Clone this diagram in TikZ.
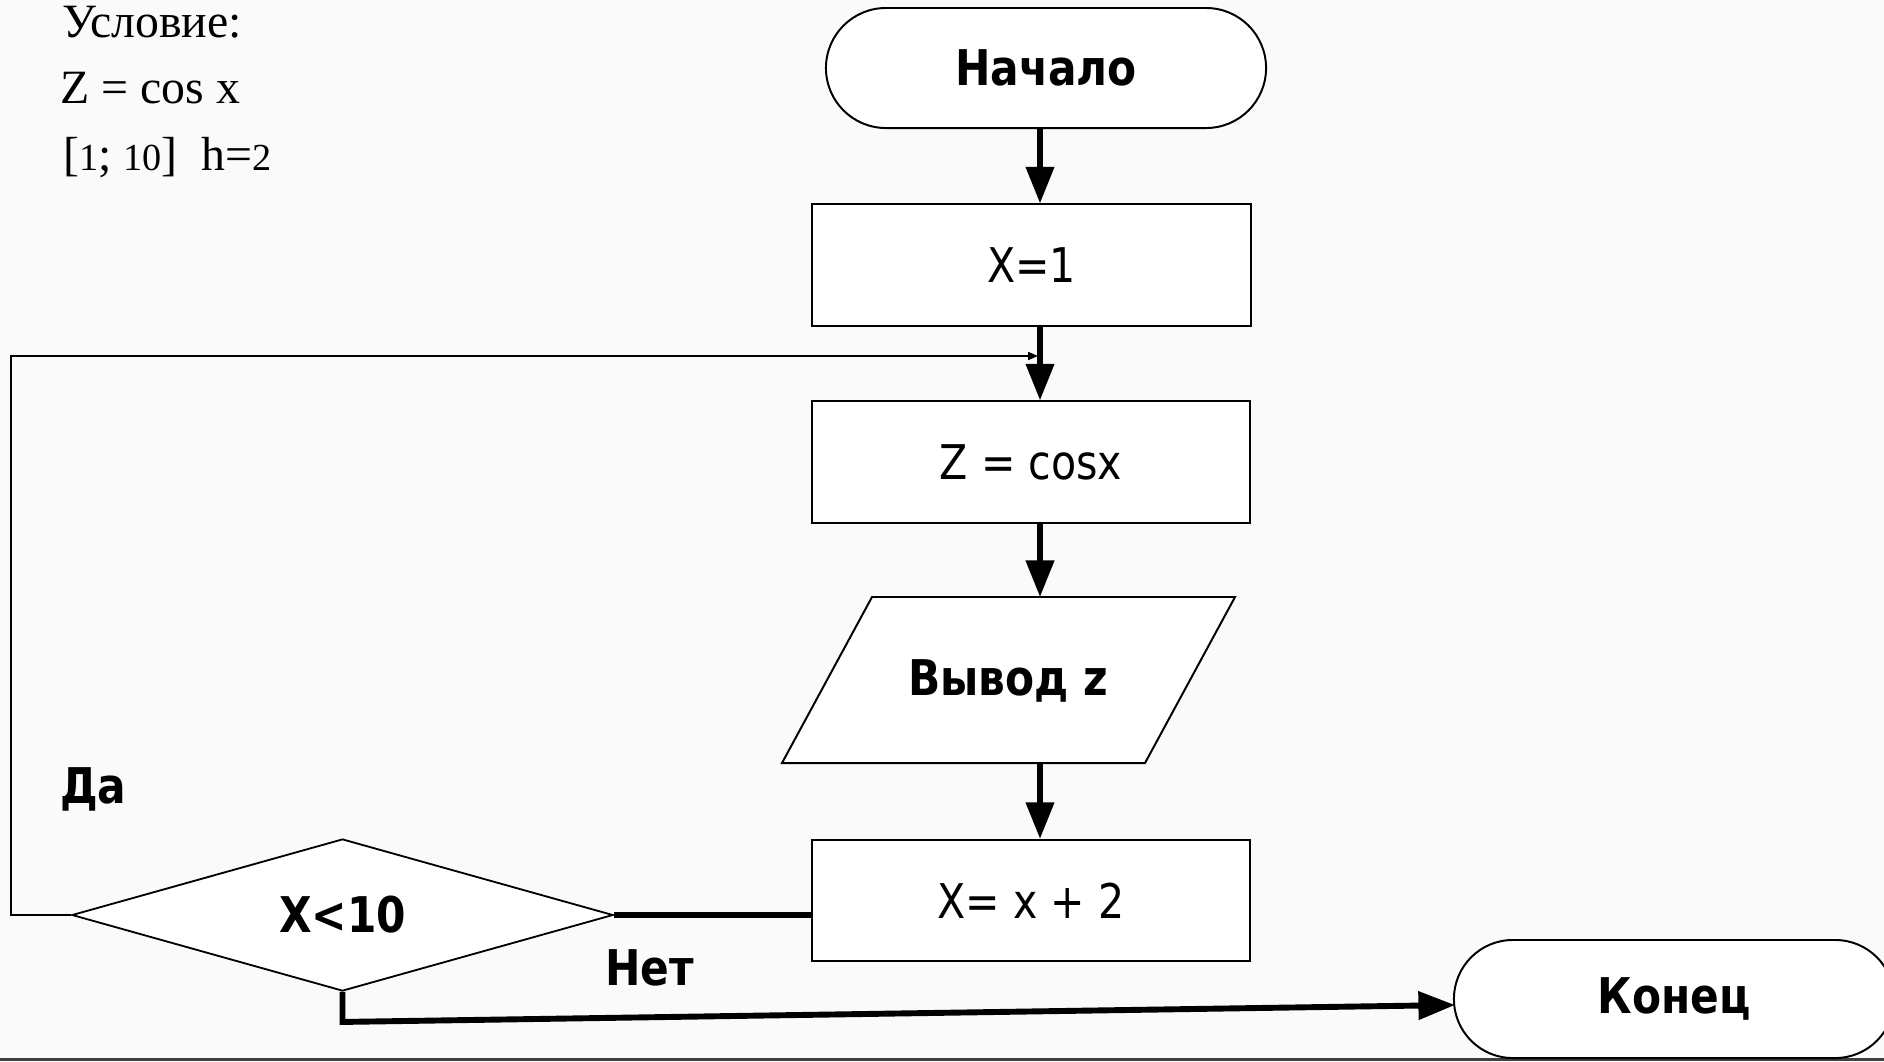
\documentclass[tikz,border=0pt]{standalone}
\usepackage{fontspec}
\setmainfont{Liberation Serif}
\newfontfamily\flowfont{DejaVu Sans}[FakeStretch=0.86]
\usetikzlibrary{arrows.meta,shapes.geometric,calc}
% small figures sitting on the baseline, in the manner of old-style numerals
\newcommand\osnum[1]{\scalebox{0.8}{#1}}

\begin{document}
\begin{tikzpicture}[x=0.025cm,y=-0.025cm,
  outline/.style={draw,line width=1.4pt,fill=white},
  box/.style={outline,rectangle,inner sep=0pt,
    minimum width=10.95cm,minimum height=3.03cm,
    font=\flowfont\fontsize{34}{40}\selectfont},
  stadium/.style={outline,rectangle,rounded corners=1.5cm,inner sep=0pt,
    minimum width=11cm,minimum height=3cm,
    font=\flowfont\bfseries\fontsize{35}{40}\selectfont},
  decision/.style={draw,line width=1.3pt,fill=white,diamond,aspect=3.56,inner sep=0pt,
    minimum width=13.525cm,minimum height=3.8cm,
    font=\flowfont\bfseries\fontsize{35}{40}\selectfont},
  boldtext/.style={inner sep=0pt,font=\flowfont\bfseries\fontsize{35}{40}\selectfont},
  cond/.style={inner sep=0pt,font=\fontsize{34}{40}\selectfont},
  flow/.style={line width=4.2pt,-{Triangle[length=26pt,width=19.5pt]}},
  flowline/.style={line width=4.2pt},
  loopline/.style={line width=1.1pt,-{Triangle[length=7pt,width=5.7pt]}}]

\useasboundingbox (0,0) rectangle (1884,1061);
\clip (0,0) rectangle (1884,1061);
\fill[black!2] (0,0) rectangle (1884,1061);
\fill[black!75] (0,1058) rectangle (1884,1061);

% task statement
\node[cond,anchor=base west] (c1) at (62,37) {Условие:};
\node[cond,anchor=base west] (c2) at (60,103) {Z = cos x};
\node[cond,anchor=base west] (c3) at (63,170) {[\osnum{1}; \osnum{10}]\ \ h=\osnum{2}};

% flowchart blocks
\node[stadium] (start) at (1046,68) {Начало};
\node[box] (x1) at (1031.5,265) {X=1};
\node[box] (zc) at (1031,462) {Z = cosx};
\draw[outline] (872,597) -- (1235,597) -- (1145,763) -- (782,763) -- cycle;
\node[boldtext] (out) at (1008,681) {Вывод z};
\node[box] (inc) at (1031,900.5) {X= x + 2};
\node[decision] (dec) at (342.5,915) {X<10};
\node[stadium,minimum height=2.95cm,rounded corners=1.47cm] (end) at (1674,999) {Конец};

\node[boldtext,anchor=base west] (yes) at (60,803) {Да};
\node[boldtext,anchor=base west] (no) at (605,985) {Нет};

% connection points
\coordinate (spine) at (1040,0);
\coordinate (outN) at (1040,597);
\coordinate (outS) at (1040,763);
\coordinate (loopin) at (1038,356);

% connectors
\draw[loopline] (dec.west) -- ++(-60,0) |- (loopin);
\draw[flow] (start.south -| spine) -- (x1.north -| spine);
\draw[flow] (x1.south -| spine) -- (zc.north -| spine);
\draw[flow] (zc.south -| spine) -- (outN);
\draw[flow] (outS) -- (inc.north -| spine);
\draw[flowline] (dec.east) -- (dec.east -| inc.west);
\draw[flow] (dec.south) -- ++(0,30) -- ($(end.west)+(2,6)$);
\end{tikzpicture}
\end{document}
